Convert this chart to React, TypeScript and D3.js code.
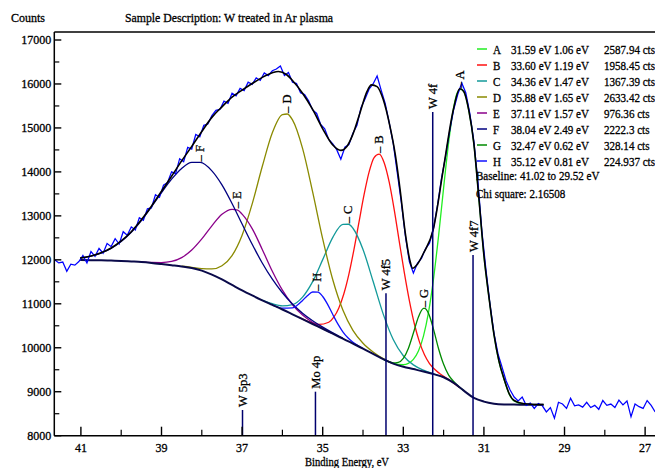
import React from 'react';
import * as d3 from 'd3';

// ---------- data ----------
const peakNames = ['A', 'B', 'C', 'D', 'E', 'F', 'G', 'H'];
const peakPos = [31.59, 33.6, 34.36, 35.88, 37.11, 38.04, 32.47, 35.12];
const peakFwhm = [1.06, 1.19, 1.47, 1.65, 1.57, 2.49, 0.62, 0.81];
const peakArea = ['2587.94', '1958.45', '1367.39', '2633.42', '976.36', '2222.3', '328.14', '224.937'];
const peakColors = ['#22ee22', '#ff1010', '#139a9a', '#8a8a00', '#8a008a', '#000080', '#008a00', '#1010ff'];

const annNames = ['W 5p3', 'Mo 4p', 'W 4f5', 'W 4f', 'W 4f7'];
const annEnergy = [36.99, 35.18, 33.43, 32.27, 31.27];
const annTop = [8584, 9001, 11239, 15364, 12111];

const xMajorTicks = [41, 39, 37, 35, 33, 31, 29, 27];
const xMinorTicks = [40, 38, 36, 34, 32, 30, 28];
const yMajorTicks = [8000, 9000, 10000, 11000, 12000, 13000, 14000, 15000, 16000, 17000];
const yMinorTicks = [8500, 9500, 10500, 11500, 12500, 13500, 14500, 15500, 16500];

const rawStart = 41.65;
const rawStep = 0.1;
const rawCounts = [
  12000, 11930, 11950, 11740, 11900, 11880, 11960, 12100, 11930, 12190,
  12080, 12260, 12150, 12370, 12300, 12480, 12360, 12640, 12560, 12750,
  12680, 12960, 12900, 13160, 13180, 13480, 13420, 13700, 13760, 14000,
  13960, 14300, 14230, 14560, 14520, 14850, 14800, 15060, 15090, 15280,
  15400, 15420, 15610, 15560, 15790, 15730, 15900, 15850, 16040, 15990,
  16140, 16080, 16250, 16190, 16300, 16340, 16410, 16190, 16260, 16040,
  16010, 15800, 15760, 15620, 15410, 15330, 15080, 14980, 14740, 14640,
  14500, 14290, 14560, 14620, 14880, 15060, 15460, 15660, 15880, 16000,
  16180, 15860, 15560, 15120, 14650, 13980, 13310, 12550, 11960, 11700,
  11920, 12030, 12250, 12380, 12720, 13250, 13870, 14360, 14930, 15420,
  15760, 16020, 15800, 15330, 14700, 13800, 12650, 11780, 11000, 10330,
  9860, 9560, 9250, 9040, 8880, 8790, 8880, 8690, 8740, 8620,
  8730, 8680, 8540, 8640, 8400, 8760, 8720, 8620, 8850, 8680,
  8700, 8650, 8760, 8640, 8690, 8600, 8800, 8690, 8720, 8640,
  8810, 8700, 8790, 8430, 8720, 8660, 8620, 8800, 8690, 8540,
];

const envelope: [number, number][] = [
  [41.02, 12040], [40.75, 12085], [40.5, 12160], [40.25, 12270], [40.0, 12430], [39.75, 12640],
  [39.5, 12910], [39.25, 13220], [39.0, 13560], [38.75, 13900], [38.5, 14250], [38.25, 14580],
  [38.0, 14920], [37.75, 15240], [37.5, 15480], [37.25, 15700], [37.0, 15860], [36.75, 16010],
  [36.5, 16150], [36.25, 16255], [36.1, 16285], [35.9, 16215], [35.75, 16080], [35.5, 15790],
  [35.25, 15420], [35.0, 14980], [34.75, 14610], [34.55, 14490], [34.4, 14580], [34.25, 14860],
  [34.08, 15330], [33.9, 15830], [33.79, 15980], [33.65, 15940], [33.5, 15650], [33.33, 15030],
  [33.2, 14400], [33.08, 13600], [32.95, 12600], [32.84, 12000], [32.77, 11810], [32.65, 11900],
  [32.5, 12150], [32.26, 12680], [32.01, 14044], [31.76, 15409], [31.6, 15890], [31.5, 15830],
  [31.375, 15400], [31.25, 14650], [31.125, 13400], [31.0, 12100], [30.875, 11150], [30.75, 10300],
  [30.625, 9690], [30.5, 9290], [30.375, 8960], [30.25, 8800], [30.0, 8725], [29.75, 8710], [29.52, 8706],
];

const baseline: [number, number][] = [
  [41.02, 11995], [40.75, 11993], [40.5, 11990], [40.25, 11983], [40.0, 11975], [39.75, 11963],
  [39.5, 11950], [39.25, 11930], [39.0, 11905], [38.75, 11878], [38.5, 11850], [38.25, 11815],
  [38.0, 11755], [37.75, 11665], [37.5, 11555], [37.25, 11430], [37.0, 11305], [36.75, 11190],
  [36.5, 11080], [36.25, 10975], [36.0, 10870], [35.75, 10760], [35.5, 10650], [35.25, 10540],
  [35.0, 10430], [34.75, 10320], [34.5, 10210], [34.25, 10095], [34.0, 9980], [33.75, 9860],
  [33.5, 9740], [33.25, 9640], [33.0, 9570], [32.75, 9515], [32.5, 9460], [32.25, 9400],
  [32.0, 9330], [31.75, 9200], [31.5, 9025], [31.25, 8860], [31.0, 8775], [30.75, 8729],
  [30.5, 8712], [30.25, 8708], [30.0, 8706], [29.75, 8705], [29.52, 8705],
];

const compA: [number, number][] = [
  [33.5, 9742], [33.25, 9645], [33.0, 9614], [32.875, 9644], [32.75, 9734], [32.625, 9924],
  [32.5, 10265], [32.375, 10804], [32.25, 11573], [32.125, 12545], [32.0, 13638], [31.875, 14670],
  [31.75, 15476], [31.65, 15820], [31.57, 15880], [31.5, 15830], [31.375, 15400], [31.25, 14650],
  [31.125, 13400], [31.0, 12100], [30.875, 11150], [30.75, 10300], [30.625, 9680], [30.5, 9280],
  [30.375, 8950], [30.25, 8790], [30.0, 8715], [29.75, 8706], [29.52, 8705],
];
const compB: [number, number][] = [
  [35.6, 10696], [35.35, 10595], [35.1, 10530], [34.85, 10581], [34.725, 10696], [34.6, 10906],
  [34.475, 11229], [34.35, 11676], [34.225, 12233], [34.1, 12857], [33.975, 13475], [33.85, 13994],
  [33.725, 14327], [33.6, 14406], [33.475, 14209], [33.35, 13766], [33.225, 13137], [33.1, 12415],
  [32.975, 11708], [32.85, 11072], [32.725, 10541], [32.6, 10134], [32.475, 9842], [32.35, 9641],
  [32.1, 9414], [31.85, 9263], [31.6, 9092],
];
const compC: [number, number][] = [
  [36.5, 11087], [36.25, 11002], [36.0, 10954], [35.75, 10983], [35.5, 11153], [35.25, 11504],
  [35.0, 12005], [34.75, 12512], [34.5, 12808], [34.36, 12809], [34.25, 12718], [34.0, 12236],
  [33.75, 11512], [33.5, 10771], [33.25, 10188], [33.0, 9819], [32.75, 9611], [32.5, 9491],
  [32.25, 9409], [32.0, 9332],
];
const compD: [number, number][] = [
  [38.5, 11854], [38.25, 11830], [38.0, 11801], [37.75, 11793], [37.5, 11866], [37.25, 12096],
  [37.0, 12560], [36.75, 13272], [36.5, 14122], [36.25, 14890], [36.0, 15304], [35.88, 15317],
  [35.75, 15183], [35.5, 14535], [35.25, 13544], [35.0, 12475], [34.75, 11546], [34.5, 10858],
  [34.25, 10396], [34.0, 10103], [33.75, 9904], [33.5, 9754], [33.25, 9642],
];
const compE: [number, number][] = [
  [39.5, 11953], [39.25, 11940], [39.0, 11937], [38.75, 11963], [38.5, 12050], [38.25, 12223],
  [38.0, 12476], [37.75, 12774], [37.5, 13036], [37.25, 13149], [37.11, 13133], [37.0, 13039],
  [36.75, 12710], [36.5, 12237], [36.25, 11740], [36.0, 11310], [35.75, 10979], [35.5, 10745],
  [35.25, 10576], [35.0, 10442], [34.75, 10323],
];
const compF: [number, number][] = [
  [41.02, 12040], [40.75, 12085], [40.5, 12154], [40.25, 12259], [40.0, 12415], [39.75, 12626],
  [39.5, 12894], [39.25, 13203], [39.0, 13528], [38.75, 13834], [38.5, 14079], [38.25, 14216],
  [38.04, 14215], [37.75, 14024], [37.5, 13705], [37.25, 13283], [37.0, 12815], [36.75, 12354],
  [36.5, 11928], [36.25, 11559], [36.0, 11251], [35.75, 10995], [35.5, 10787], [35.25, 10615],
  [35.0, 10469], [34.75, 10339], [34.5, 10218],
];
const compG: [number, number][] = [
  [33.5, 9741], [33.25, 9658], [33.125, 9670], [33.0, 9760], [32.875, 9984], [32.75, 10335],
  [32.625, 10700], [32.5, 10894], [32.47, 10896], [32.375, 10782], [32.25, 10418], [32.125, 9977],
  [32.0, 9623], [31.875, 9377], [31.75, 9234], [31.625, 9118], [31.5, 9025],
];
const compH: [number, number][] = [
  [36.25, 10979], [36.0, 10900], [35.75, 10906], [35.625, 10971], [35.5, 11075], [35.375, 11189],
  [35.25, 11268], [35.12, 11265], [35.0, 11166], [34.875, 10982], [34.75, 10758], [34.625, 10543],
  [34.5, 10364], [34.375, 10227], [34.25, 10127], [34.0, 9984],
];
const components = [compA, compB, compC, compD, compE, compF, compG, compH];

// ---------- layout ----------
const W = 655;
const H = 468;
const x = d3.scaleLinear().domain([41.66, 26.74]).range([54.3, 655.6]);
const y = d3.scaleLinear().domain([8000, 17000]).range([435.7, 40]);
const topY = 32;
const FONT = "'Liberation Serif', 'Times New Roman', serif";
const TXT_STROKE = 0.3;

const smooth = d3
  .line<[number, number]>()
  .x((d) => x(d[0]))
  .y((d) => y(d[1]))
  .curve(d3.curveMonotoneX);
const rawLine = d3
  .line<number>()
  .x((_, i) => x(rawStart - i * rawStep))
  .y((d) => y(d));

function T(props: { x: number; y: number; sx?: number; size?: number; anchor?: string; children: React.ReactNode }) {
  const { sx = 1, size = 12.3, anchor = 'start' } = props;
  return (
    <text
      transform={`translate(${props.x},${props.y}) scale(${sx},1)`}
      fontSize={size}
      fontFamily={FONT}
      textAnchor={anchor}
      fill="#000"
      stroke="#000"
      strokeWidth={TXT_STROKE}
    >
      {props.children}
    </text>
  );
}

export default function App() {
  const x0 = x.range()[0];
  const yb = y(8000);
  return (
    <svg width={W} height={H} style={{ position: 'absolute', left: 0, top: 0, background: '#fff' }}>
      <rect x={0} y={0} width={W} height={H} fill="#fff" />
      {/* header */}
      <T x={11} y={22} size={12.5} sx={0.96}>Counts</T>
      <text
        x={125}
        y={22}
        fontSize={12.5}
        fontFamily={FONT}
        textLength={208}
        lengthAdjust="spacingAndGlyphs"
        stroke="#000"
        strokeWidth={TXT_STROKE}
      >
        Sample Description: W treated in Ar plasma
      </text>

      {/* components */}
      {components.map((c, i) => (
        <path key={i} d={smooth(c) || ''} fill="none" stroke={peakColors[i]} strokeWidth={1.3} />
      ))}
      {/* baseline */}
      <path d={smooth(baseline) || ''} fill="none" stroke="#0a0a4a" strokeWidth={2} />
      {/* raw data */}
      <path d={rawLine(rawCounts) || ''} fill="none" stroke="#0000ff" strokeWidth={1.25} />
      {/* envelope */}
      <path d={smooth(envelope) || ''} fill="none" stroke="#000" strokeWidth={1.6} />

      {/* annotation lines */}
      {annNames.map((n, i) => {
        const ax = x(annEnergy[i]);
        const at = y(annTop[i]);
        return (
          <g key={n}>
            <line x1={ax} x2={ax} y1={at} y2={yb} stroke="#00006e" strokeWidth={1.5} />
            <text
              transform={`translate(${ax + 4.5},${at - 3}) rotate(-90)`}
              fontSize={12.5}
              fontFamily={FONT}
              fill="#000"
              stroke="#000"
              strokeWidth={TXT_STROKE}
            >
              {n}
            </text>
          </g>
        );
      })}

      {/* peak labels */}
      {peakNames.map((n, i) => {
        const top = d3.max(components[i], (d) => d[1]) as number;
        return (
          <text
            key={n}
            transform={`translate(${x(peakPos[i]) + 3.5},${y(top) - 1}) rotate(-90)`}
            fontSize={12.5}
            fontFamily={FONT}
            fill="#000"
            stroke="#000"
            strokeWidth={TXT_STROKE}
          >
            {'– ' + n}
          </text>
        );
      })}

      {/* axes */}
      <line x1={x0} x2={W} y1={topY} y2={topY} stroke="#000" strokeWidth={1.5} />
      <line x1={x0} x2={x0} y1={topY} y2={yb} stroke="#000" strokeWidth={1.5} />
      <line x1={x0} x2={W} y1={yb} y2={yb} stroke="#000" strokeWidth={1.5} />
      {yMajorTicks.map((t) => (
        <g key={t}>
          <line x1={x0} x2={x0 + 7} y1={y(t)} y2={y(t)} stroke="#000" strokeWidth={1.4} />
          <T x={x0 - 3} y={y(t) + 4.2} size={12} anchor="end">{t}</T>
        </g>
      ))}
      {yMinorTicks.map((t) => (
        <line key={t} x1={x0} x2={x0 + 5} y1={y(t)} y2={y(t)} stroke="#000" strokeWidth={1.2} />
      ))}
      {xMajorTicks.map((t) => (
        <g key={t}>
          <line x1={x(t)} x2={x(t)} y1={yb} y2={yb - 9} stroke="#000" strokeWidth={1.4} />
          <T x={x(t)} y={451.5} size={12} anchor="middle">{t}</T>
        </g>
      ))}
      {xMinorTicks.map((t) => (
        <line key={t} x1={x(t)} x2={x(t)} y1={yb} y2={yb - 6} stroke="#000" strokeWidth={1.2} />
      ))}
      <T x={347} y={466} size={12.3} sx={0.86} anchor="middle">Binding Energy, eV</T>

      {/* legend */}
      {peakNames.map((n, i) => {
        const ly = 49 + i * 16;
        return (
          <g key={n}>
            <line x1={477} x2={487} y1={ly} y2={ly} stroke={peakColors[i]} strokeWidth={1.5} />
            <T x={493} y={ly + 4.5} sx={0.9}>{n}</T>
            <T x={511} y={ly + 4.5} sx={0.9}>{peakPos[i].toFixed(2) + ' eV'}</T>
            <T x={554} y={ly + 4.5} sx={0.9}>{peakFwhm[i].toFixed(2) + ' eV'}</T>
            <T x={604} y={ly + 4.5} sx={0.9}>{peakArea[i] + ' cts'}</T>
          </g>
        );
      })}
      <T x={476} y={180} sx={0.9}>{'Baseline:   41.02 to   29.52 eV'}</T>
      <T x={476} y={197.5} sx={0.9}>{'Chi square: 2.16508'}</T>
    </svg>
  );
}
